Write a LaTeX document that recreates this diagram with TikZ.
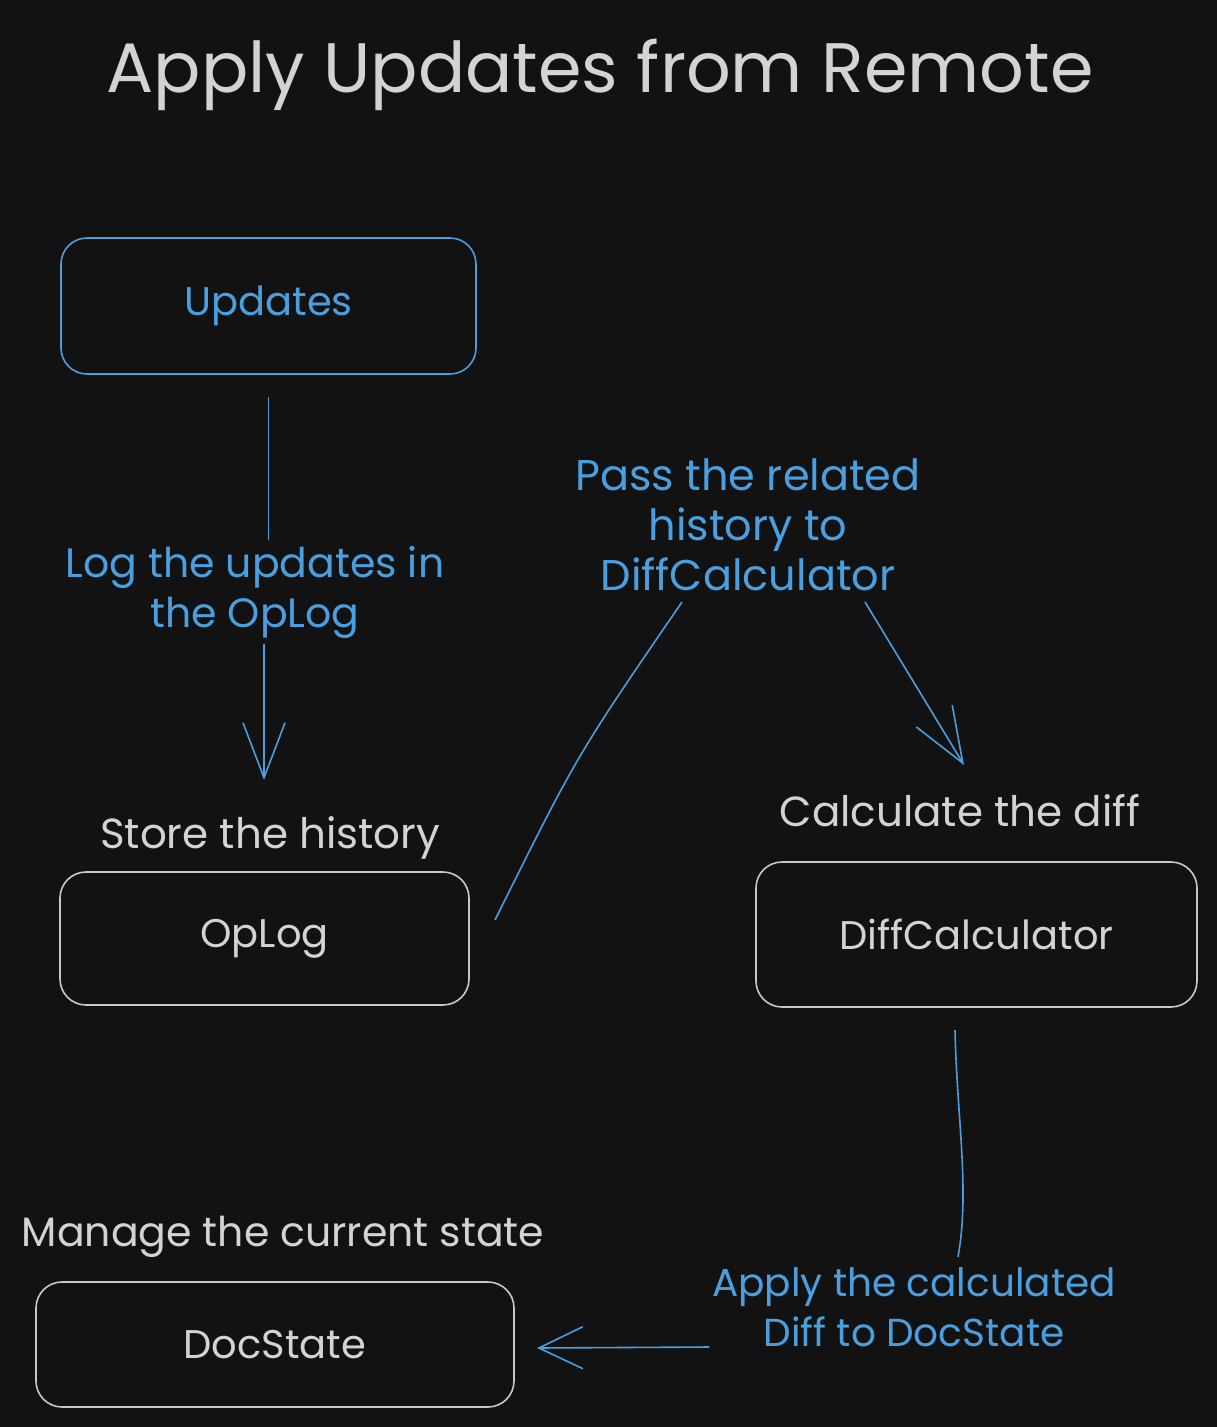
\documentclass[tikz,border=0pt]{standalone}
\usepackage{fontspec}
\setmainfont{Poppins}
\usetikzlibrary{arrows.meta,calc}
\definecolor{bg}{HTML}{121212}
\definecolor{eblue}{HTML}{4A9FE0}
\definecolor{egrey}{HTML}{D3D3D3}
\definecolor{eline}{HTML}{C8C8C8}
\begin{document}
\begin{tikzpicture}[x=1pt,y=-1pt,
  box/.style={draw, rounded corners=26pt, line width=1.6pt, inner sep=0pt, font=\fontsize{40}{48}\selectfont},
  greybox/.style={box, draw=eline, text=egrey},
  bluebox/.style={box, draw=eblue, text=eblue},
  greylbl/.style={text=egrey, inner sep=0pt, font=\fontsize{42}{48}\selectfont},
  bluelbl/.style={text=eblue, inner sep=6pt, align=center, font=\fontsize{41}{50}\selectfont},
  conn/.style={draw=eblue, line width=1.6pt},
  tip/.style={-{Straight Barb[length=#1, width=42pt, line width=1.6pt]}},
]
\fill[bg] (0,0) rectangle (1217,1427);
\useasboundingbox (0,0) rectangle (1217,1427);

\node[text=egrey, font=\fontsize{70}{80}\selectfont, anchor=base] (title) at (600,92) {Apply Updates from Remote};

\node[bluebox, minimum width=415pt, minimum height=136pt] (updates) at (268.5,306) {Updates};
\node[greybox, minimum width=409pt, minimum height=133pt] (oplog) at (264.5,938.5) {OpLog};
\node[greybox, minimum width=441pt, minimum height=145pt] (diffcalc) at (976.5,934.5) {DiffCalculator};
\node[greybox, minimum width=478pt, minimum height=125pt] (docstate) at (275,1344.5) {DocState};

\node[greylbl, anchor=base] (store) at (270,848) {Store the history};
\node[greylbl, anchor=base] (calc) at (960,826) {Calculate the diff};
\node[greylbl, anchor=base, font=\fontsize{41}{48}\selectfont] (manage) at (283,1246) {Manage the current state};

\node[bluelbl] (lbl1) at (255,592) {Log the updates in\\the OpLog};
\node[bluelbl, font=\fontsize{43}{50}\selectfont] (lbl2) at (748,525) {Pass the related\\history to\\DiffCalculator};
\node[bluelbl, font=\fontsize{39}{50}\selectfont] (lbl3) at (914,1307) {Apply the calculated\\Diff to DocState};

\coordinate (t1) at (264,780);
\coordinate (s2) at (495,920);
\coordinate (e2) at (682,602);
\coordinate (s2b) at (865,602);
\coordinate (t2) at (964,765);
\coordinate (s3) at (955,1030);
\coordinate (e3) at (958,1257);
\coordinate (s3b) at (709,1347);
\coordinate (t3) at (537,1348);

\draw[conn, shorten <=22pt] (updates.south) -- (updates.south |- lbl1.north);
\draw[conn, tip=55pt] (t1 |- lbl1.south) -- (t1);
\draw[conn] (s2) .. controls (577,755) .. (e2);
\draw[conn, tip=55pt] (s2b) -- (t2);
\draw[conn] (s3) .. controls (957,1120) and (970,1190) .. (e3);
\draw[conn, -{Straight Barb[length=44pt, width=42pt, line width=1.6pt]}] (s3b) -- (t3);
\end{tikzpicture}
\end{document}
